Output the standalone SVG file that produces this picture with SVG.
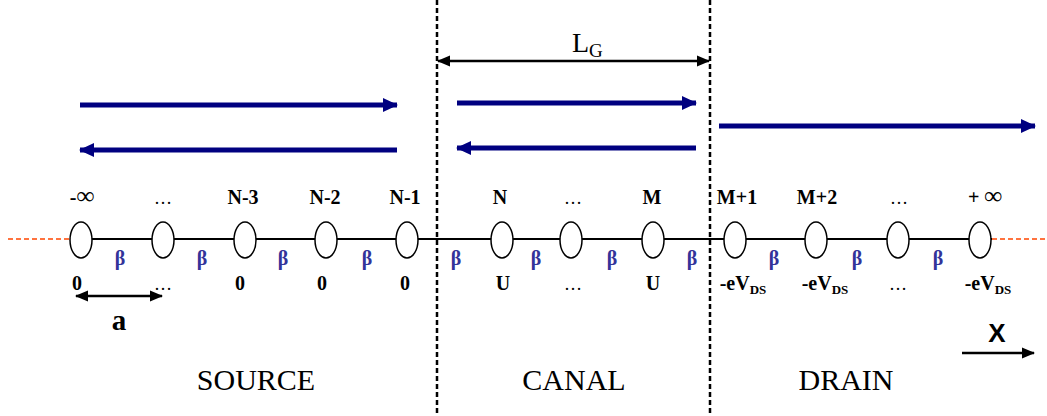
<svg xmlns="http://www.w3.org/2000/svg" width="1047" height="416" viewBox="0 0 1047 416">
<style>
.lbl{font-family:"Liberation Serif",serif;font-weight:bold;font-size:20px;fill:#000;text-anchor:middle}
.dots{font-family:"Liberation Serif",serif;font-size:18px;fill:#000;text-anchor:middle}
.beta{font-family:"Liberation Serif",serif;font-weight:bold;font-size:20px;fill:#333399;text-anchor:middle}
.sub{font-size:13px}
.inf{font-size:25px}
.region{font-family:"Liberation Serif",serif;font-size:30px;fill:#000;text-anchor:middle}
.site{fill:#fff;stroke:#000;stroke-width:1.5}
.flow{stroke:#000080;stroke-width:5;fill:none}
.blk{stroke:#000;stroke-width:2.5;fill:none}
.divider{stroke:#000;stroke-width:2.5;stroke-dasharray:5,3;fill:none}
.lead{stroke:#ff4500;stroke-width:1.5;stroke-dasharray:5,3;fill:none}
</style>
<defs>
<marker id="bh" markerUnits="userSpaceOnUse" markerWidth="15" markerHeight="16" refX="14" refY="8" orient="auto-start-reverse" viewBox="0 0 15 16">
<path d="M0,1 L15,8 L0,15 Z" fill="#000080"/>
</marker>
<marker id="kh" markerUnits="userSpaceOnUse" markerWidth="13" markerHeight="13" refX="12" refY="6.5" orient="auto-start-reverse" viewBox="0 0 13 13">
<path d="M0,1 L13,6.5 L0,12 Z" fill="#000"/>
</marker>
</defs>
<rect width="1047" height="416" fill="#fff"/>
<g id="connectors">
<line class="divider" x1="437" y1="0" x2="437" y2="416"/>
<line class="divider" x1="710" y1="0" x2="710" y2="416"/>
<line class="lead" x1="8" y1="239" x2="70" y2="239"/>
<line class="lead" x1="992" y1="239" x2="1047" y2="239"/>
<line x1="70" y1="239" x2="992" y2="239" stroke="#000" stroke-width="2"/>
<line class="flow" x1="80" y1="105" x2="397" y2="105" marker-end="url(#bh)"/>
<line class="flow" x1="80" y1="150" x2="397" y2="150" marker-start="url(#bh)"/>
<line class="flow" x1="457" y1="103" x2="696" y2="103" marker-end="url(#bh)"/>
<line class="flow" x1="457" y1="148" x2="696" y2="148" marker-start="url(#bh)"/>
<line class="flow" x1="719" y1="126" x2="1035" y2="126" marker-end="url(#bh)"/>
<line class="blk" x1="438" y1="61" x2="709" y2="61" marker-start="url(#kh)" marker-end="url(#kh)"/>
<line class="blk" x1="76" y1="296" x2="162" y2="296" marker-start="url(#kh)" marker-end="url(#kh)"/>
<line class="blk" x1="962" y1="353" x2="1034" y2="353" marker-end="url(#kh)"/>
</g>
<g id="site-minf"><ellipse class="site" cx="81" cy="240" rx="11" ry="18"/><text class="lbl" x="82" y="204">-<tspan class="inf">∞</tspan></text><text class="lbl" x="77" y="290">0</text></g>
<g id="site-s2"><ellipse class="site" cx="163" cy="240" rx="11" ry="18"/><text class="dots" x="163" y="204">…</text><text class="dots" x="163" y="290">…</text></g>
<g id="site-N3"><ellipse class="site" cx="245" cy="240" rx="11" ry="18"/><text class="lbl" x="243" y="204">N-3</text><text class="lbl" x="240" y="290">0</text></g>
<g id="site-N2"><ellipse class="site" cx="326" cy="240" rx="11" ry="18"/><text class="lbl" x="325" y="204">N-2</text><text class="lbl" x="322" y="290">0</text></g>
<g id="site-N1"><ellipse class="site" cx="407" cy="240" rx="11" ry="18"/><text class="lbl" x="405" y="204">N-1</text><text class="lbl" x="405" y="290">0</text></g>
<g id="site-N"><ellipse class="site" cx="502" cy="240" rx="11" ry="18"/><text class="lbl" x="500" y="204">N</text><text class="lbl" x="503" y="290">U</text></g>
<g id="site-c2"><ellipse class="site" cx="571" cy="240" rx="11" ry="18"/><text class="dots" x="573" y="204">…</text><text class="dots" x="573" y="290">…</text></g>
<g id="site-M"><ellipse class="site" cx="653" cy="240" rx="11" ry="18"/><text class="lbl" x="652" y="204">M</text><text class="lbl" x="653" y="290">U</text></g>
<g id="site-M1"><ellipse class="site" cx="735" cy="240" rx="11" ry="18"/><text class="lbl" x="737" y="204">M+1</text><text class="lbl" x="743" y="290">-eV<tspan class="sub" dy="4">DS</tspan></text></g>
<g id="site-M2"><ellipse class="site" cx="816" cy="240" rx="11" ry="18"/><text class="lbl" x="817" y="204">M+2</text><text class="lbl" x="825" y="290">-eV<tspan class="sub" dy="4">DS</tspan></text></g>
<g id="site-d3"><ellipse class="site" cx="898" cy="240" rx="11" ry="18"/><text class="dots" x="899" y="204">…</text><text class="dots" x="898" y="290">…</text></g>
<g id="site-pinf"><ellipse class="site" cx="980" cy="240" rx="11" ry="18"/><text class="lbl" x="985" y="204">+ <tspan class="inf">∞</tspan></text><text class="lbl" x="988" y="290">-eV<tspan class="sub" dy="4">DS</tspan></text></g>
<g id="couplings">
<text class="beta" x="120" y="265">β</text>
<text class="beta" x="202" y="265">β</text>
<text class="beta" x="283" y="265">β</text>
<text class="beta" x="367" y="265">β</text>
<text class="beta" x="456" y="265">β</text>
<text class="beta" x="536" y="265">β</text>
<text class="beta" x="612" y="265">β</text>
<text class="beta" x="692" y="265">β</text>
<text class="beta" x="774" y="265">β</text>
<text class="beta" x="857" y="265">β</text>
<text class="beta" x="938" y="265">β</text>
</g>
<g id="labels">
<text x="572" y="52" font-family="Liberation Serif,serif" font-size="28">L<tspan font-size="19" dy="5">G</tspan></text>
<text class="lbl" x="119" y="330" style="font-size:29px">a</text>
<text x="997" y="342" font-family="Liberation Sans,sans-serif" font-weight="bold" font-size="26" text-anchor="middle">X</text>
<text class="region" x="256" y="390">SOURCE</text>
<text class="region" x="574" y="390">CANAL</text>
<text class="region" x="846" y="390">DRAIN</text>
</g>
</svg>
